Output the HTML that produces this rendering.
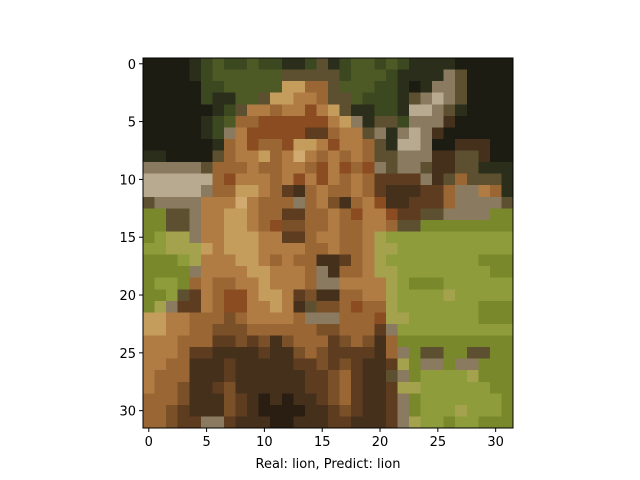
<!DOCTYPE html>
<html><head><meta charset="utf-8"><style>
html,body{margin:0;padding:0;background:#fff;width:640px;height:480px;overflow:hidden}
svg text{font-family:"DejaVu Sans","Liberation Sans",sans-serif;font-size:13px;fill:#000}
</style></head><body>
<svg id="chart" width="640" height="480" xmlns="http://www.w3.org/2000/svg"></svg>
<script>
const palette = {K:'#1c1c12',X:'#2a1e12',D:'#2a2e1a',G:'#3c4820',O:'#4e5a26',E:'#5c5030',L:'#8e9c3c',Y:'#a4a24c',H:'#78882a',T:'#c49c5c',A:'#b07c44',B:'#9a6634',R:'#8a4c20',C:'#7a5028',N:'#5e3c20',M:'#45301c',W:'#b8aa90',S:'#8a7a60',P:'#d0aa70'};
const pixelRows = [
"KKKKDGOGGOGGDDGEDGOOGOGDDDDKKKKK",
"KKKKDGOOOOOOEEEEEGOOOGDDDDSEKKKK",
"KKKKKGGOOOOOTTBBEOOOGGDKDSSEKKKK",
"KKKKKGDDOOETTAABEEOGGGDESWSEKKKK",
"KKKKKKDGEAABAARATEDDGGDWWSEDKKKK",
"KKKKKDGOBBRRRRRRATSDEEGSSSMKKKKK",
"KKKKKDGSARRRRRNNBAAESDSWSMKKKKKK",
"KKKKKKDBARBBRTTARAABEDWWSKKMMMKK",
"DDKKKKEBAATBAPABABABEESSSMMEEMKK",
"SSSSSEBBBABBAABRARBRSESSEMMEEDDD",
"WWWWWWBRAAABARARABABNNNNSMEBEEED",
"WWWWWSBBTTABNMBABBABNMMMNNBSSABD",
"ESSSSAAAPABBBSBACMBARMMNNNBSSSSE",
"HHEESAATTABBNNBBABRAARNNEESSSSHH",
"HHEESAATTABRCCBBABBAABEEHHHHHHHH",
"HLYYSAATTTAANNBAABBAYLLLLLLLLLLL",
"LLYYYTATTTAAAABBABBAYYLLLLLLLLLL",
"HHHLYAAATTABABBMMNBAYLLLLLLLLHHH",
"HHHHSAAAATTAAABSMBBAYYLLLLLLLLHH",
"HLLHBABBAATAAABSSAAAAYLHHHLLLLLL",
"HHLENABRRATTANCMMBBAAYLLLLYLLLLL",
"HYSNNABRRAATAMECCBRBBYLLLLLLLHHH",
"TTAABBBCBAAAABSSSBBBRYYLLLLLLHHH",
"TTAABBCCCBBBBBBCCBBBNSLLLLLLLLLL",
"AAABBBNNCNCMCBBBNCBCMBHHHHHHHHHH",
"AAABNNMMMMNMMCBCNNNNMBSHEEHHEEHH",
"AABBMMMNMMMMMNNCNCNMMNYHSSHSSHHH",
"ABBBMMMNMMMMMMNNCBNMMESHLLLLYHHH",
"ABBCMMNCMMMMMMNNCBNMMNYYLLLLLLHH",
"BBBCMMMCNMXMXMMNCBNMMNSHLLLLLLLH",
"BBCNMMMCNMXXXXMMNCNMMNSHLLLYLLLH",
"BBCNNSSNMMMXXMMMNNMMMNSYLLHLLHHH"
];
const xTicks = [0,5,10,15,20,25,30];
const yTicks = [0,5,10,15,20,25,30];
const xLabel = "Real: lion, Predict: lion";

const NS='http://www.w3.org/2000/svg';
const svg=document.getElementById('chart');
const plotLeft=143, plotTop=58, plotSize=370, nRows=pixelRows.length;
const cell=plotSize/nRows;
const xs=v=>plotLeft+(v+0.5)*cell;
const ys=v=>plotTop+(v+0.5)*cell;
function mk(tag,attrs){const e=document.createElementNS(NS,tag);for(const k in attrs)e.setAttribute(k,attrs[k]);svg.appendChild(e);return e;}

const img=document.createElementNS(NS,'g');


img.setAttribute('shape-rendering','crispEdges');
svg.appendChild(img);
pixelRows.forEach((row,r)=>{
  for(let c=0;c<row.length;c++){
    const e=document.createElementNS(NS,'rect');
    e.setAttribute('x',xs(c)-cell/2);e.setAttribute('y',ys(r)-cell/2);
    e.setAttribute('width',cell+0.4);e.setAttribute('height',cell+0.4);
    e.setAttribute('fill',palette[row[c]]||'#888');
    
    
    img.appendChild(e);
  }
});
const frame=mk('rect',{x:plotLeft,y:plotTop,width:plotSize,height:plotSize,fill:'none',stroke:'#000','stroke-width':1});



xTicks.forEach(v=>{
  const x=xs(v);
  const t=mk('line',{x1:x,x2:x,y1:plotTop+plotSize,y2:plotTop+plotSize+4,stroke:'#000'});
  
  
  const l=mk('text',{x:x,y:plotTop+plotSize+18,'text-anchor':'middle'});
  l.textContent=v;
  
  
});
yTicks.forEach(v=>{
  const y=ys(v);
  const t=mk('line',{x1:plotLeft-4,x2:plotLeft,y1:y,y2:y,stroke:'#000'});
  
  
  const l=mk('text',{x:plotLeft-7,y:y+5,'text-anchor':'end'});
  l.textContent=v;
  
  
});
const xl=mk('text',{x:plotLeft+plotSize/2,y:468,'text-anchor':'middle'});
xl.textContent=xLabel;


</script>
</body></html>
